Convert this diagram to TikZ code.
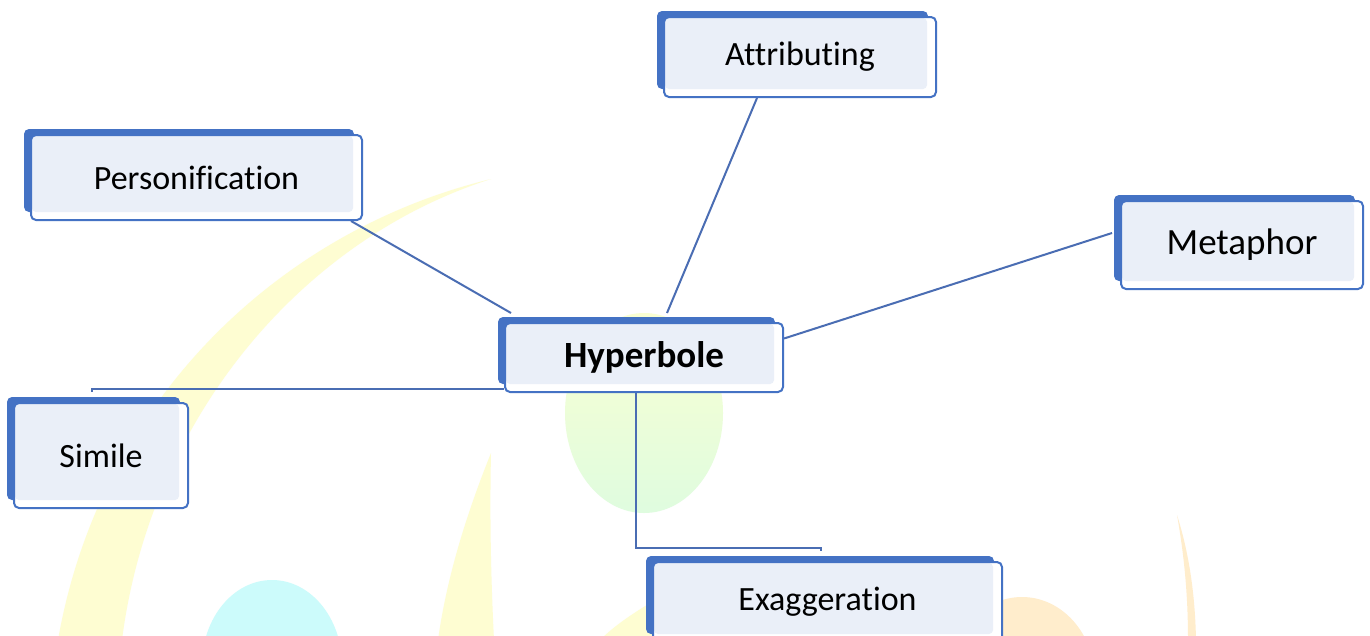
\documentclass[tikz,border=0pt]{standalone}
\usepackage{fontspec}
\setmainfont{Carlito}[Ligatures={NoCommon,NoRare,NoContextual}]
\usetikzlibrary{backgrounds}
\pgfdeclarelayer{deco}
\pgfsetlayers{deco,background,main}
\definecolor{boxblue}{HTML}{4472C4}
\definecolor{linkblue}{HTML}{4A6DB3}
\definecolor{lightfill}{HTML}{EAEFF8}
\definecolor{decoyellow}{HTML}{FEFDD2}
\definecolor{decoorange}{HTML}{FFEDCC}
\definecolor{decocyan}{HTML}{CCFBFB}
\definecolor{decogreen}{HTML}{DFFCDF}
\definecolor{decolemon}{HTML}{FAFFD2}
\tikzset{
  concept/.style={rectangle, rounded corners=5pt, draw=boxblue, line width=2pt,
    fill=white, font=\fontsize{34}{40}\selectfont, inner sep=0pt, text=black,
    path picture={\fill[lightfill, rounded corners=4pt]
      ([xshift=1pt,yshift=-1pt]path picture bounding box.north west) rectangle
      ([xshift=-9pt,yshift=8pt]path picture bounding box.south east);}},
  bigtext/.style={font=\fontsize{37}{44}\selectfont},
  backbox/.style={fill=boxblue, rounded corners=5pt},
  link/.style={draw=linkblue, line width=2pt},
}
\begin{document}
\begin{tikzpicture}[x=1pt,y=-1pt]
\useasboundingbox (0,0) rectangle (1370,635);
% background decorations
\begin{pgfonlayer}{deco}
\begin{scope}
\clip (0,0) rectangle (1370,635);
\fill[white] (0,0) rectangle (1370,635);
\fill[decoyellow] (491,179) .. controls (280,230) and (100,400) .. (58,640)
  -- (122,640) .. controls (150,420) and (300,240) .. (491,179) -- cycle;
\fill[decoyellow] (491,453) .. controls (460,530) and (445,590) .. (438,640)
  -- (494,640) .. controls (490,560) and (490,500) .. (491,453) -- cycle;
\fill[decoorange] (1177,515) .. controls (1185,560) and (1188,600) .. (1188,640)
  -- (1196,640) .. controls (1195,590) and (1188,550) .. (1177,515) -- cycle;
\fill[decoyellow] (600,640) .. controls (615,625) and (635,612) .. (655,600) -- (655,640) -- cycle;
\shade[top color=decolemon, bottom color=decogreen] (644,413) ellipse [x radius=79, y radius=100];
\fill[decocyan] (272,665) ellipse [x radius=70, y radius=85];
\fill[decoorange] (1022,680) ellipse [x radius=73, y radius=83];
\end{scope}
\end{pgfonlayer}
% concept boxes
\node[concept, minimum width=272pt, minimum height=80pt] (att) at (800,57) {Attributing};
\node[concept, minimum width=331pt, minimum height=85pt] (pers) at (196.5,177.5) {Personification};
\node[concept, bigtext, minimum width=242pt, minimum height=88pt] (met) at (1242,245) {Metaphor};
\node[concept, bigtext, minimum width=278pt, minimum height=69pt] (hyp) at (644,357.5) {\bfseries Hyperbole};
\node[concept, minimum width=174pt, minimum height=105pt] (sim) at (101,455.5) {Simile};
\node[concept, minimum width=349pt, minimum height=80pt] (exa) at (827.5,602) {Exaggeration};
\begin{pgfonlayer}{background}
\foreach \n in {att,pers,met,hyp,sim,exa}
  \fill[backbox] ([xshift=-6pt,yshift=5pt]\n.north west) rectangle ([xshift=-9pt,yshift=9pt]\n.south east);
% connectors
\draw[link] ([xshift=-12pt]pers.south east) -- ([xshift=7pt,yshift=9pt]hyp.north west);
\draw[link] ([xshift=-43pt]att.south) -- ([xshift=23pt,yshift=9pt]hyp.north);
\draw[link] ([xshift=-8pt,yshift=12pt]met.west) -- ([yshift=19pt]hyp.east);
\draw[link] ([yshift=4pt]hyp.south west) -| ([xshift=79pt,yshift=10pt]sim.north west);
\draw[link] ([xshift=-8pt]hyp.south) |- ([xshift=-6.5pt,yshift=13pt]exa.north) -- ([xshift=-6.5pt,yshift=10pt]exa.north);
\end{pgfonlayer}
\end{tikzpicture}
\end{document}
